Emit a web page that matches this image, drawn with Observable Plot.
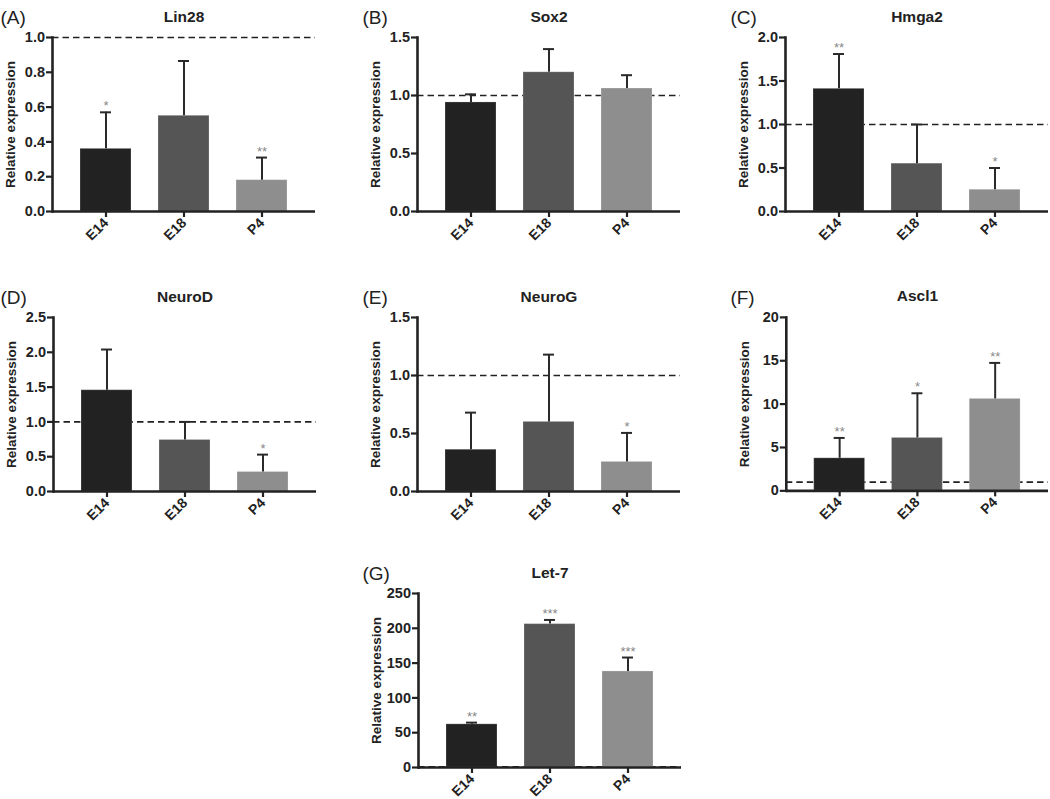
<!DOCTYPE html>
<html><head><meta charset="utf-8">
<script src="https://cdn.jsdelivr.net/npm/d3@7"></script>
<script src="https://cdn.jsdelivr.net/npm/@observablehq/plot@0.6"></script>
<style>
body{margin:0;background:#fff;overflow:hidden;}
#wrap{position:relative;width:1050px;height:799px;overflow:hidden;}
.panel{position:absolute;}
.panel svg{overflow:visible;}
</style></head><body><div id="wrap"></div>
<script>
// ---- data ----
const stages = ["E14", "E18", "P4"];
const stageFill = ["#222222", "#555555", "#8e8e8e"];

const lin28Mean = [0.36, 0.55, 0.18];
const lin28Sem  = [0.21, 0.315, 0.13];
const lin28Sig  = ["*", "", "**"];
const lin28Ticks = [0, 0.2, 0.4, 0.6, 0.8, 1.0];

const sox2Mean = [0.94, 1.20, 1.06];
const sox2Sem  = [0.07, 0.20, 0.115];
const sox2Sig  = ["", "", ""];
const sox2Ticks = [0, 0.5, 1.0, 1.5];

const hmga2Mean = [1.41, 0.55, 0.25];
const hmga2Sem  = [0.40, 0.45, 0.25];
const hmga2Sig  = ["**", "", "*"];
const hmga2Ticks = [0, 0.5, 1.0, 1.5, 2.0];

const neurodMean = [1.455, 0.74, 0.28];
const neurodSem  = [0.585, 0.26, 0.25];
const neurodSig  = ["", "", "*"];
const neurodTicks = [0, 0.5, 1.0, 1.5, 2.0, 2.5];

const neurogMean = [0.36, 0.60, 0.255];
const neurogSem  = [0.32, 0.58, 0.25];
const neurogSig  = ["", "", "*"];
const neurogTicks = [0, 0.5, 1.0, 1.5];

const ascl1Mean = [3.75, 6.1, 10.6];
const ascl1Sem  = [2.35, 5.15, 4.15];
const ascl1Sig  = ["**", "*", "**"];
const ascl1Ticks = [0, 5, 10, 15, 20];

const let7Mean = [62, 206, 138];
const let7Sem  = [2.5, 6, 20];
const let7Sig  = ["**", "***", "***"];
const let7Ticks = [0, 50, 100, 150, 200, 250];

const panelLetters = ["(A)", "(B)", "(C)", "(D)", "(E)", "(F)", "(G)"];
const geneNames = ["Lin28", "Sox2", "Hmga2", "NeuroD", "NeuroG", "Ascl1", "Let-7"];
const yLabel = "Relative expression";
const referenceLevel = 1;

// ---- layout ----
const ML = 60, MT = 37, FH = 174, MB = 50, FW = 263, MR = 2;
const panels = [
  {mean: lin28Mean,  sem: lin28Sem,  sig: lin28Sig,  ticks: lin28Ticks,  fmt: ".1f", axisX: 52,  top: 0,   letterDx: -52},
  {mean: sox2Mean,   sem: sox2Sem,   sig: sox2Sig,   ticks: sox2Ticks,   fmt: ".1f", axisX: 417, top: 0,   letterDx: -55},
  {mean: hmga2Mean,  sem: hmga2Sem,  sig: hmga2Sig,  ticks: hmga2Ticks,  fmt: ".1f", axisX: 785, top: 0,   letterDx: -55},
  {mean: neurodMean, sem: neurodSem, sig: neurodSig, ticks: neurodTicks, fmt: ".1f", axisX: 53,  top: 280, letterDx: -53},
  {mean: neurogMean, sem: neurogSem, sig: neurogSig, ticks: neurogTicks, fmt: ".1f", axisX: 417, top: 280, letterDx: -55},
  {mean: ascl1Mean,  sem: ascl1Sem,  sig: ascl1Sig,  ticks: ascl1Ticks,  fmt: "d",   axisX: 786, top: 280, letterDx: -56},
  {mean: let7Mean,   sem: let7Sem,   sig: let7Sig,   ticks: let7Ticks,   fmt: "d",   axisX: 418, top: 556, letterDx: -56}
];

const wrap = document.getElementById("wrap");
const ink = "#222";

panels.forEach((p, k) => {
  const data = stages.map((s, i) => ({stage: s, mean: p.mean[i], upper: p.mean[i] + p.sem[i], sig: p.sig[i]}));
  const ticks = p.ticks;
  const chart = Plot.plot({
    width: ML + FW + MR,
    height: MT + FH + MB,
    marginLeft: ML, marginRight: MR, marginTop: MT, marginBottom: MB,
    style: {fontFamily: "'Liberation Sans', Arial, sans-serif", fontSize: "14px", color: ink, background: "transparent", overflow: "visible"},
    x: {domain: stages, padding: 0.34, axis: null},
    y: {domain: [ticks[0], ticks[ticks.length - 1]], axis: null},
    color: {domain: stages, range: stageFill},
    marks: [
      Plot.ruleY([referenceLevel], {stroke: ink, strokeWidth: 1.6, strokeDasharray: "6.5,4"}),
      Plot.barY(data, {x: "stage", y: "mean", fill: "stage", stroke: "white", strokeOpacity: 0.22, strokeWidth: 1}),
      Plot.ruleX(data, {x: "stage", y1: "mean", y2: "upper", stroke: "#2a2a2a", strokeWidth: 2}),
      Plot.tickY(data, {x: "stage", y: "upper", stroke: "#2a2a2a", strokeWidth: 2, insetLeft: 20, insetRight: 20}),
      Plot.text(data.filter(d => d.sig), {x: "stage", y: "upper", text: "sig", dy: -6, fill: "#888", fontSize: 13}),
      Plot.axisY({ticks: ticks, tickFormat: d3.format(p.fmt), tickSize: 6, tickPadding: 1.5, strokeWidth: 2.2, label: null, fontWeight: "bold", fontSize: 14.5}),
      Plot.axisX({tickRotate: -45, tickSize: 6, tickPadding: 3, strokeWidth: 2.2, label: null, fontWeight: "bold", fontSize: 14}),
      Plot.frame({anchor: "left", stroke: ink, strokeWidth: 2.6}),
      Plot.ruleY([0], {stroke: ink, strokeWidth: 2.6}),
      Plot.text([yLabel], {frameAnchor: "left", textAnchor: "middle", rotate: -90, dx: -42, fontWeight: "bold", fontSize: 13.5}),
      Plot.text([geneNames[k]], {frameAnchor: "top", textAnchor: "middle", dy: -27, fontWeight: "bold", fontSize: 15.5}),
      Plot.text([panelLetters[k]], {frameAnchor: "top-left", dx: p.letterDx, dy: -27, textAnchor: "start", fontSize: 19})
    ]
  });
  const div = document.createElement("div");
  div.className = "panel";
  div.style.left = (p.axisX - ML) + "px";
  div.style.top = p.top + "px";
  div.appendChild(chart);
  wrap.appendChild(div);
});
</script>
</body></html>
